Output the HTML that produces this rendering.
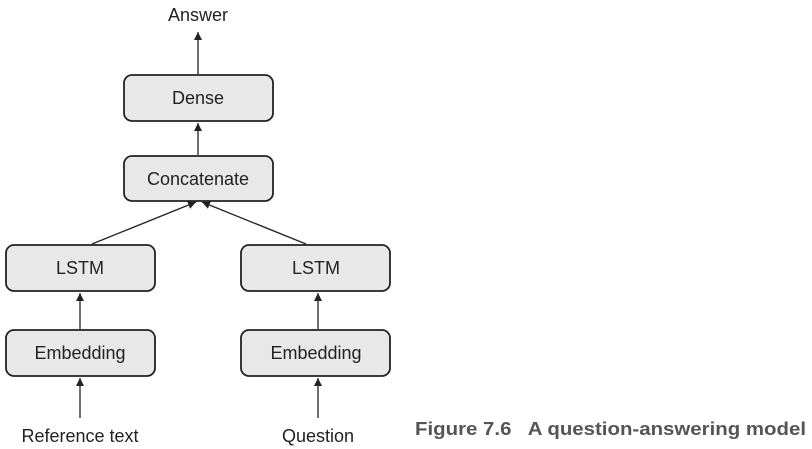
<!DOCTYPE html>
<html><head><meta charset="utf-8"><style>
html,body{margin:0;padding:0;background:#fff;width:812px;height:449px;overflow:hidden}
svg{display:block}
text{font-family:"Liberation Sans",sans-serif}
</style></head><body>
<svg width="812" height="449" viewBox="0 0 812 449" xmlns="http://www.w3.org/2000/svg">
<defs><marker id="a" viewBox="0 0 10 10" refX="10" refY="5" markerWidth="8" markerHeight="10" orient="auto" markerUnits="userSpaceOnUse"><path d="M0,0 L10,5 L0,10 z" fill="#222"/></marker></defs>
<g fill="#e8e8e8" stroke="#222" stroke-width="1.8">
<rect x="124" y="75" width="149" height="46" rx="8"/>
<rect x="124" y="156" width="149" height="45" rx="8"/>
<rect x="6" y="245" width="149" height="46" rx="8"/>
<rect x="241" y="245" width="149" height="46" rx="8"/>
<rect x="6" y="330" width="149" height="46" rx="8"/>
<rect x="241" y="330" width="149" height="46" rx="8"/>
</g>
<g stroke="#222" stroke-width="1.3" marker-end="url(#a)">
<line x1="198" y1="74" x2="198" y2="32"/>
<line x1="198" y1="155" x2="198" y2="123"/>
<line x1="92" y1="244" x2="196" y2="202"/>
<line x1="306" y1="244" x2="202" y2="202"/>
<line x1="80" y1="329" x2="80" y2="293"/>
<line x1="318" y1="329" x2="318" y2="293"/>
<line x1="80" y1="418" x2="80" y2="378"/>
<line x1="318" y1="418" x2="318" y2="378"/>
</g>
<g font-size="18" fill="#222" text-anchor="middle">
<text x="198" y="21">Answer</text>
<text x="198" y="104">Dense</text>
<text x="198" y="185">Concatenate</text>
<text x="80" y="274">LSTM</text>
<text x="316" y="274">LSTM</text>
<text x="80" y="359">Embedding</text>
<text x="316" y="359">Embedding</text>
<text x="80" y="442">Reference text</text>
<text x="318" y="442">Question</text>
</g>
<text x="415" y="435" font-size="18" font-weight="bold" fill="#555" textLength="391" lengthAdjust="spacingAndGlyphs" xml:space="preserve">Figure 7.6   A question-answering model</text>
</svg>
</body></html>
